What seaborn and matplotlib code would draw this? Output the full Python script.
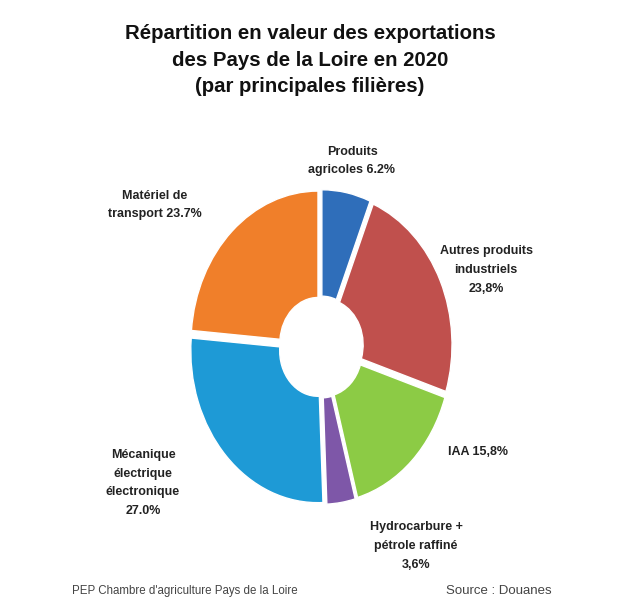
import matplotlib
matplotlib.use("Agg")
import matplotlib.pyplot as plt
import seaborn as sns

# ==========================================
# Data
# ==========================================
filieres = ["Produits agricoles", "Autres produits industriels", "IAA",
            "Hydrocarbure + pétrole raffiné", "Mécanique électrique électronique",
            "Matériel de transport"]
parts = [6.2, 23.8, 15.8, 3.6, 27.0, 23.7]
labels = ["Produits\nagricoles 6.2%", "Autres produits\nindustriels\n23,8%", "IAA 15,8%",
          "Hydrocarbure +\npétrole raffiné\n3,6%", "Mécanique\nélectrique\nélectronique\n27.0%",
          "Matériel de\ntransport 23.7%"]
colors = ["#2F6EBA", "#C0504D", "#8CCB45", "#7E57A8", "#1E9AD6", "#F07F2A"]

# label anchor points in figure pixels (x, y from top)
label_pos = [(352, 161), (486, 270), (478, 452), (416, 546), (143, 483), (155, 205)]

sns.set_theme(style="white")
plt.rcParams['font.family'] = ['Liberation Sans Narrow', 'Liberation Sans', 'DejaVu Sans']

W, H = 636, 600
fig = plt.figure(figsize=(W / 100, H / 100), dpi=100)
fig.patch.set_facecolor("white")

# donut axes (slightly taller than wide, like the original)
cx, cy, rx, ry = 321, 347, 127, 152
ax = fig.add_axes([(cx - 1.2 * rx) / W, (H - cy - 1.2 * ry) / H, 2.4 * rx / W, 2.4 * ry / H])
ax.pie(parts, colors=colors, startangle=90, counterclock=False,
       explode=[0.035] * len(parts),
       wedgeprops=dict(width=0.7, edgecolor="white", linewidth=1.0))
ax.set_aspect("auto")
ax.set_xlim(-1.2, 1.2)
ax.set_ylim(-1.2, 1.2)
ax.axis("off")

# labels
for lab, (px, py) in zip(labels, label_pos):
    fig.text(px / W, 1 - py / H, lab, ha="center", va="center", fontsize=9,
             fontweight="bold", color="#222222", linespacing=1.75)

# title
fig.text(310 / W, 1 - 60 / H,
         "Répartition en valeur des exportations\ndes Pays de la Loire en 2020\n(par principales filières)",
         ha="center", va="center", fontsize=14.7, fontweight="bold", color="#111111",
         linespacing=1.5)

# footer
fig.text(72 / W, 1 - 591 / H, "PEP Chambre d'agriculture Pays de la Loire",
         ha="left", va="center", fontsize=8.3, color="#444444")
fig.text(552 / W, 1 - 591 / H, "Source : Douanes",
         ha="right", va="center", fontsize=9.5, color="#444444")

fig.savefig("out.png", dpi=100)
